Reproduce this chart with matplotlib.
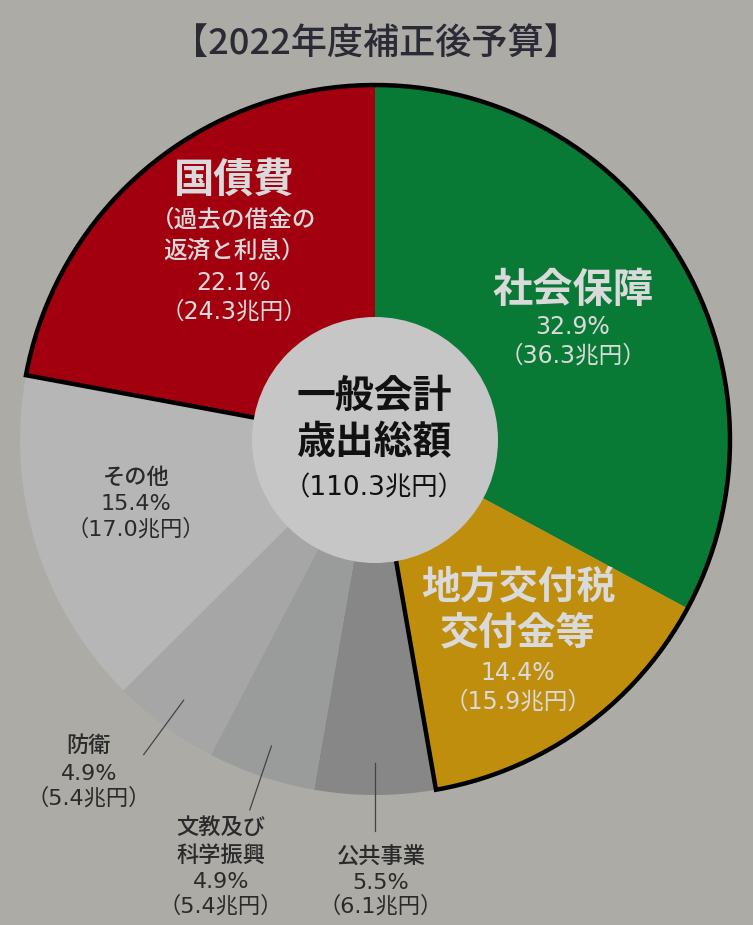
import numpy as np
import matplotlib.pyplot as plt
from matplotlib.patches import Wedge, Circle

plt.rcParams['font.family'] = ['Noto Sans CJK JP', 'DejaVu Sans']
NUM_FONT = ['DejaVu Sans', 'Noto Sans CJK JP']

# data, clockwise from 12 o'clock
categories = ['社会保障', '地方交付税交付金等', '公共事業', '文教及び科学振興',
              '防衛', 'その他', '国債費']
shares = [32.9, 14.4, 5.5, 4.9, 4.9, 15.4, 22.1]
amounts = [36.3, 15.9, 6.1, 5.4, 5.4, 17.0, 24.3]
total_amount = 110.3
colors = ['#087a36', '#bf8e0c', '#878787', '#9a9b9b', '#a6a6a6',
          '#b6b6b6', '#a3000f']

BG = '#acaba6'
LIGHT = '#dadada'
DARK = '#2a2a2a'

W, H = 753, 925
cx, cy = 375, H - 440
R = 355
R_HOLE = 123


def Y(y):
    # image row -> axes y
    return H - y


def put_lines(ax, x, rows, color):
    for txt, y, size, weight, fam in rows:
        ax.text(x, Y(y), txt, ha='center', va='center', fontsize=size,
                color=color, fontweight=weight, family=fam)


fig = plt.figure(figsize=(W / 100, H / 100), dpi=100)
fig.patch.set_facecolor(BG)
ax = fig.add_axes([0, 0, 1, 1])
ax.set_facecolor(BG)

ax.pie(shares, colors=colors, startangle=90, counterclock=False, radius=R,
       center=(cx, cy), wedgeprops=dict(linewidth=0))

# boundary angles of each wedge
cum = np.concatenate([[0], np.cumsum(shares)]) / sum(shares)
theta = 90 - 360 * cum

# black outline round the red / green / gold block
ax.add_patch(Wedge((cx, cy), R, theta[2], theta[6] + 360, fill=False,
                   ec='black', lw=3.2, zorder=2))

ax.add_patch(Circle((cx, cy), R_HOLE, fc='#c6c6c6', ec='none', zorder=3))

# leader lines for the small grey slices
for k in [2, 3, 4]:
    mid = np.deg2rad((theta[k] + theta[k + 1]) / 2)
    r1, r2 = 0.91 * R, 1.10 * R
    ax.plot([cx + r1 * np.cos(mid), cx + r2 * np.cos(mid)],
            [cy + r1 * np.sin(mid), cy + r2 * np.sin(mid)],
            color='#444444', lw=0.9, zorder=4)

fmt_pct = lambda v: '{:.1f}%'.format(v)
fmt_amt = lambda v: '（{:.1f}兆円）'.format(v)
JP = 'Noto Sans CJK JP'

ax.text(376, Y(45), '【2022年度補正後予算】', ha='center', va='center',
        fontsize=26, color='#2b2b36', fontweight='medium')

put_lines(ax, 234, [('国債費', 180, 29, 'bold', JP),
                    ('（過去の借金の', 220, 17, 'medium', JP),
                    ('返済と利息）', 251, 17, 'medium', JP),
                    (fmt_pct(shares[6]), 283, 17, 'normal', NUM_FONT),
                    (fmt_amt(amounts[6]), 312, 17, 'normal', NUM_FONT)],
          LIGHT)

put_lines(ax, 573, [('社会保障', 290, 29, 'bold', JP),
                    (fmt_pct(shares[0]), 327, 17, 'normal', NUM_FONT),
                    (fmt_amt(amounts[0]), 356, 17, 'normal', NUM_FONT)],
          LIGHT)

put_lines(ax, 518, [('地方交付税', 588, 28, 'bold', JP),
                    ('交付金等', 633, 28, 'bold', JP),
                    (fmt_pct(shares[1]), 673, 17, 'normal', NUM_FONT),
                    (fmt_amt(amounts[1]), 702, 17, 'normal', NUM_FONT)],
          LIGHT)

put_lines(ax, 374, [('一般会計', 396, 28, 'bold', JP),
                    ('歳出総額', 443, 28, 'bold', JP),
                    ('（{:.1f}兆円）'.format(total_amount), 488, 19, 'normal',
                     NUM_FONT)],
          '#111111')

put_lines(ax, 136, [('その他', 477, 16, 'medium', JP),
                    (fmt_pct(shares[5]), 504, 16, 'normal', NUM_FONT),
                    (fmt_amt(amounts[5]), 529, 16, 'normal', NUM_FONT)],
          DARK)

put_lines(ax, 89, [('防衛', 745, 16, 'medium', JP),
                   (fmt_pct(shares[4]), 774, 16, 'normal', NUM_FONT),
                   (fmt_amt(amounts[4]), 798, 16, 'normal', NUM_FONT)],
          DARK)

put_lines(ax, 221, [('文教及び', 827, 16, 'medium', JP),
                    ('科学振興', 855, 16, 'medium', JP),
                    (fmt_pct(shares[3]), 882, 16, 'normal', NUM_FONT),
                    (fmt_amt(amounts[3]), 906, 16, 'normal', NUM_FONT)],
          DARK)

put_lines(ax, 381, [('公共事業', 857, 16, 'medium', JP),
                    (fmt_pct(shares[2]), 883, 16, 'normal', NUM_FONT),
                    (fmt_amt(amounts[2]), 906, 16, 'normal', NUM_FONT)],
          DARK)

ax.set_xlim(0, W)
ax.set_ylim(0, H)
ax.set_aspect('equal')
ax.axis('off')

fig.savefig('out.png', dpi=100, facecolor=BG)
